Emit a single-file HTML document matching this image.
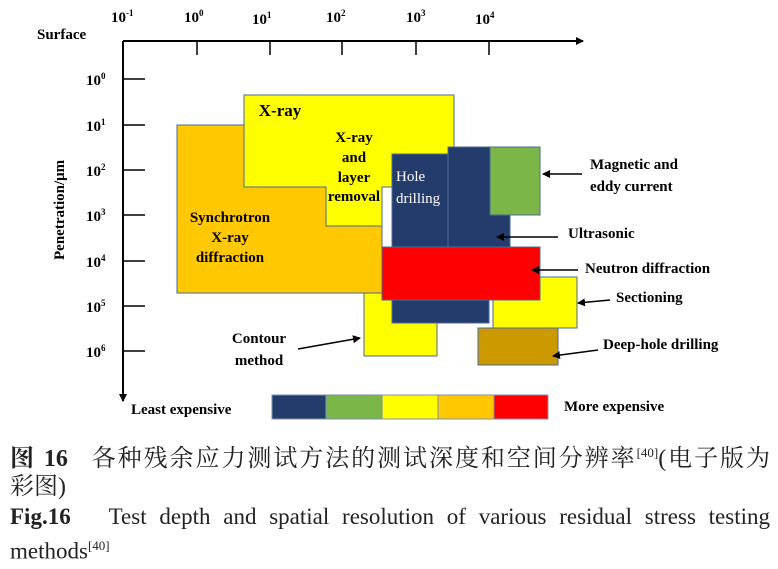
<!DOCTYPE html>
<html><head><meta charset="utf-8"><style>
html,body{margin:0;padding:0;background:#fff;}
body{width:778px;height:569px;position:relative;overflow:hidden;font-family:"Liberation Serif","Noto Serif CJK SC",serif;}
.ln{position:absolute;left:10px;width:760px;white-space:nowrap;color:#222;line-height:30px;}
.j{text-align:justify;text-align-last:justify;white-space:normal;}
.zh{font-size:24px;}
.en{font-size:23px;}
sup{font-size:13px;}
</style></head><body>
<svg width="778" height="420" style="position:absolute;left:0;top:0" font-family="Liberation Serif, serif" font-weight="bold">
<defs><marker id="a" markerWidth="8" markerHeight="8" refX="7" refY="4" orient="auto" markerUnits="userSpaceOnUse"><path d="M0,0L8,4L0,8z" fill="#000"/></marker></defs>
<line x1="123" y1="41" x2="583" y2="41" stroke="#000" stroke-width="2" marker-end="url(#a)"/>
<line x1="123" y1="41" x2="123" y2="401" stroke="#000" stroke-width="2" marker-end="url(#a)"/>
<g stroke="#000" stroke-width="1.5">
<line x1="197" y1="41" x2="197" y2="55"/><line x1="270" y1="41" x2="270" y2="55"/><line x1="342" y1="41" x2="342" y2="55"/><line x1="416" y1="41" x2="416" y2="55"/><line x1="489" y1="41" x2="489" y2="55"/>
<line x1="123" y1="79" x2="145" y2="79"/><line x1="123" y1="125" x2="145" y2="125"/><line x1="123" y1="170" x2="145" y2="170"/><line x1="123" y1="215" x2="145" y2="215"/><line x1="123" y1="261" x2="145" y2="261"/><line x1="123" y1="306" x2="145" y2="306"/><line x1="123" y1="351" x2="145" y2="351"/>
</g>
<g font-size="15">
<text x="111" y="22">10<tspan font-size="9" dy="-6">-1</tspan></text>
<text x="184" y="22">10<tspan font-size="9" dy="-6">0</tspan></text>
<text x="252" y="24">10<tspan font-size="9" dy="-6">1</tspan></text>
<text x="326" y="22">10<tspan font-size="9" dy="-6">2</tspan></text>
<text x="406" y="22">10<tspan font-size="9" dy="-6">3</tspan></text>
<text x="475" y="24">10<tspan font-size="9" dy="-6">4</tspan></text>
<text x="37" y="39">Surface</text>
<text x="86" y="85">10<tspan font-size="9" dy="-6">0</tspan></text>
<text x="86" y="131">10<tspan font-size="9" dy="-6">1</tspan></text>
<text x="86" y="176">10<tspan font-size="9" dy="-6">2</tspan></text>
<text x="86" y="221">10<tspan font-size="9" dy="-6">3</tspan></text>
<text x="86" y="267">10<tspan font-size="9" dy="-6">4</tspan></text>
<text x="86" y="312">10<tspan font-size="9" dy="-6">5</tspan></text>
<text x="86" y="357">10<tspan font-size="9" dy="-6">6</tspan></text>
<text transform="translate(64,260) rotate(-90)">Penetration/μm</text>
</g>
<g stroke="#4a6a9a" stroke-width="1">
<rect x="177" y="125" width="205" height="168" fill="#ffc800"/>
<path d="M244,95H454V187H382V226H326V187H244Z" fill="#ffff00"/>
<rect x="364" y="293" width="73" height="63" fill="#ffff00"/>
<rect x="478" y="328" width="80" height="37" fill="#cc9900"/>
<rect x="493" y="277" width="84" height="51" fill="#ffff00"/>
<path d="M392,154H448V147H510V248H489V323H392Z" fill="#243c6c"/>
<line x1="448" y1="154" x2="448" y2="300" stroke="#4a6a9a"/>
<rect x="490" y="147" width="50" height="68" fill="#7ab648"/>
<rect x="382" y="247" width="158" height="53" fill="#ff0000"/>
</g>
<g font-size="15" text-anchor="middle">
<text x="280" y="116" font-size="17">X-ray</text>
<text x="354" y="142">X-ray</text><text x="354" y="162">and</text><text x="354" y="182">layer</text><text x="354" y="201">removal</text>
<text x="230" y="222">Synchrotron</text><text x="230" y="242">X-ray</text><text x="230" y="262">diffraction</text>
<text x="259" y="343">Contour</text><text x="259" y="365">method</text>
</g>
<g font-size="15" font-weight="normal" fill="#fff"><text x="396" y="181">Hole</text><text x="396" y="203">drilling</text></g>
<g font-size="15">
<text x="590" y="169">Magnetic and</text><text x="590" y="191">eddy current</text>
<text x="568" y="238">Ultrasonic</text>
<text x="585" y="273">Neutron diffraction</text>
<text x="616" y="302">Sectioning</text>
<text x="603" y="349">Deep-hole drilling</text>
<text x="131" y="414">Least expensive</text>
<text x="564" y="411">More expensive</text>
</g>
<g stroke="#000" stroke-width="1.5">
<line x1="582" y1="174" x2="543" y2="174" marker-end="url(#a)"/>
<line x1="558" y1="237" x2="497" y2="237" marker-end="url(#a)"/>
<line x1="578" y1="270" x2="532" y2="270" marker-end="url(#a)"/>
<line x1="610" y1="300" x2="578" y2="303" marker-end="url(#a)"/>
<line x1="598" y1="350" x2="553" y2="356" marker-end="url(#a)"/>
<line x1="298" y1="349" x2="360" y2="338" marker-end="url(#a)"/>
</g>
<g stroke="#7f8fb0" stroke-width="1">
<rect x="272" y="395" width="54" height="24" fill="#243c6c"/>
<rect x="326" y="395" width="56" height="24" fill="#7ab648"/>
<rect x="382" y="395" width="56" height="24" fill="#ffff00"/>
<rect x="438" y="395" width="56" height="24" fill="#ffc800"/>
<rect x="494" y="395" width="54" height="24" fill="#ff0000"/>
</g>
</svg>
<div class="ln zh j" style="top:438px"><b>图 16</b>&nbsp;&nbsp; 各种残余应力测试方法的测试深度和空间分辨率<sup>[40]</sup>(电子版为</div>
<div class="ln zh" style="top:472px">彩图)</div>
<div class="ln en j" style="top:502px"><b>Fig.16</b>&nbsp;&nbsp; Test depth and spatial resolution of various residual stress testing</div>
<div class="ln en" style="top:531px">methods<sup>[40]</sup></div>
</body></html>
